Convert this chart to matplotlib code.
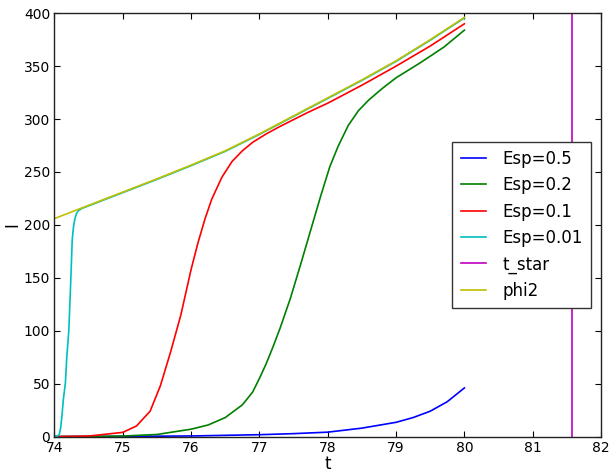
import matplotlib
matplotlib.use("Agg")
import matplotlib.pyplot as plt

# -----------------------
# DATOS
# -----------------------
t_blue = [74.0, 75.0, 76.0, 77.0, 77.5, 78.0, 78.5, 79.0, 79.25, 79.5, 79.75, 80.0]
I_blue = [0.0, 0.2, 0.6, 1.8, 2.8, 4.2, 8.0, 13.5, 18.0, 24.0, 33.0, 46.0]

t_green = [74.0, 74.5, 75.0, 75.5, 76.0, 76.25, 76.5, 76.75, 76.9, 77.0, 77.1,
           77.2, 77.3, 77.45, 77.6, 77.75, 77.9, 78.03, 78.15, 78.3, 78.45,
           78.6, 78.8, 79.0, 79.35, 79.7, 80.0]
I_green = [0.0, 0.1, 0.5, 2.0, 7.0, 11.0, 18.0, 30.0, 42.0, 55.0, 69.0,
           85.0, 102.0, 130.0, 162.0, 195.0, 228.0, 255.0, 274.0, 294.0, 308.0,
           318.0, 329.0, 339.0, 353.0, 368.0, 384.0]

t_red = [74.0, 74.5, 75.0, 75.2, 75.4, 75.55, 75.7, 75.85, 76.0, 76.1, 76.2,
         76.3, 76.45, 76.6, 76.75, 76.9, 77.1, 77.3, 77.7, 78.0, 78.5, 79.0,
         79.5, 80.0]
I_red = [0.0, 0.5, 4.0, 10.0, 24.0, 48.0, 80.0, 115.0, 158.0, 183.0, 205.0,
         224.0, 245.0, 260.0, 270.0, 278.0, 286.0, 293.0, 306.0, 315.0, 332.0, 350.0,
         369.0, 390.0]

t_cyan = [74.0, 74.04, 74.07, 74.09, 74.11, 74.13, 74.16, 74.18, 74.21, 74.24,
          74.26, 74.28, 74.30, 74.32, 74.35, 74.4, 74.5, 75.0, 75.5, 76.0,
          76.5, 77.0, 77.5, 78.0, 78.5, 79.0, 79.5, 80.0]
I_cyan = [0.0, 0.0, 2.0, 8.0, 20.0, 35.0, 51.0, 75.0, 100.0, 150.0,
          186.0, 199.0, 206.0, 210.5, 213.5, 215.5, 218.0, 230.5, 243.0, 256.0,
          269.5, 285.5, 302.5, 319.5, 336.5, 354.5, 374.5, 395.5]

t_phi2 = [74.0, 74.5, 75.0, 75.5, 76.0, 76.5, 77.0, 77.5, 78.0, 78.5, 79.0, 79.5, 80.0]
I_phi2 = [206.0, 218.5, 231.0, 243.5, 256.5, 270.0, 286.0, 303.0, 320.0, 337.0, 355.0, 375.0, 396.0]

t_star = 81.58

# -----------------------
# GRAFICO
# -----------------------
plt.rcParams["font.family"] = "DejaVu Sans"

fig = plt.figure(figsize=(6.1, 4.72), dpi=100)
ax = fig.add_axes([0.0893, 0.075, 0.896, 0.897])

LW = 1.2
ax.plot(t_blue, I_blue, color="#0000ff", lw=LW, label="Esp=0.5")
ax.plot(t_green, I_green, color="#008000", lw=LW, label="Esp=0.2")
ax.plot(t_red, I_red, color="#ff0000", lw=LW, label="Esp=0.1")
ax.plot(t_cyan, I_cyan, color="#00bfbf", lw=LW, label="Esp=0.01")
ax.axvline(t_star, color="#bf00bf", lw=LW, label="t_star")
ax.plot(t_phi2, I_phi2, color="#bfbf00", lw=LW, label="phi2")

ax.set_xlim(74, 82)
ax.set_ylim(0, 400)
ax.set_xticks(range(74, 83))
ax.set_yticks(range(0, 401, 50))
ax.tick_params(direction="in", top=True, right=True, length=4, width=0.8,
               labelsize=10, pad=3)
ax.set_xlabel("t", fontsize=12, labelpad=0)
ax.set_ylabel("I", fontsize=12, labelpad=2)
for s in ax.spines.values():
    s.set_linewidth(1.0)
    s.set_color("#222222")

leg = ax.legend(loc="center right", bbox_to_anchor=(0.9817, 0.5), borderaxespad=0,
                fontsize=12, fancybox=False, framealpha=1, handlelength=1.5,
                handletextpad=1.0, labelspacing=0.5, borderpad=0.5)
leg.get_frame().set_edgecolor("#333333")
leg.get_frame().set_linewidth(1.0)

plt.savefig("out.png", dpi=100)
